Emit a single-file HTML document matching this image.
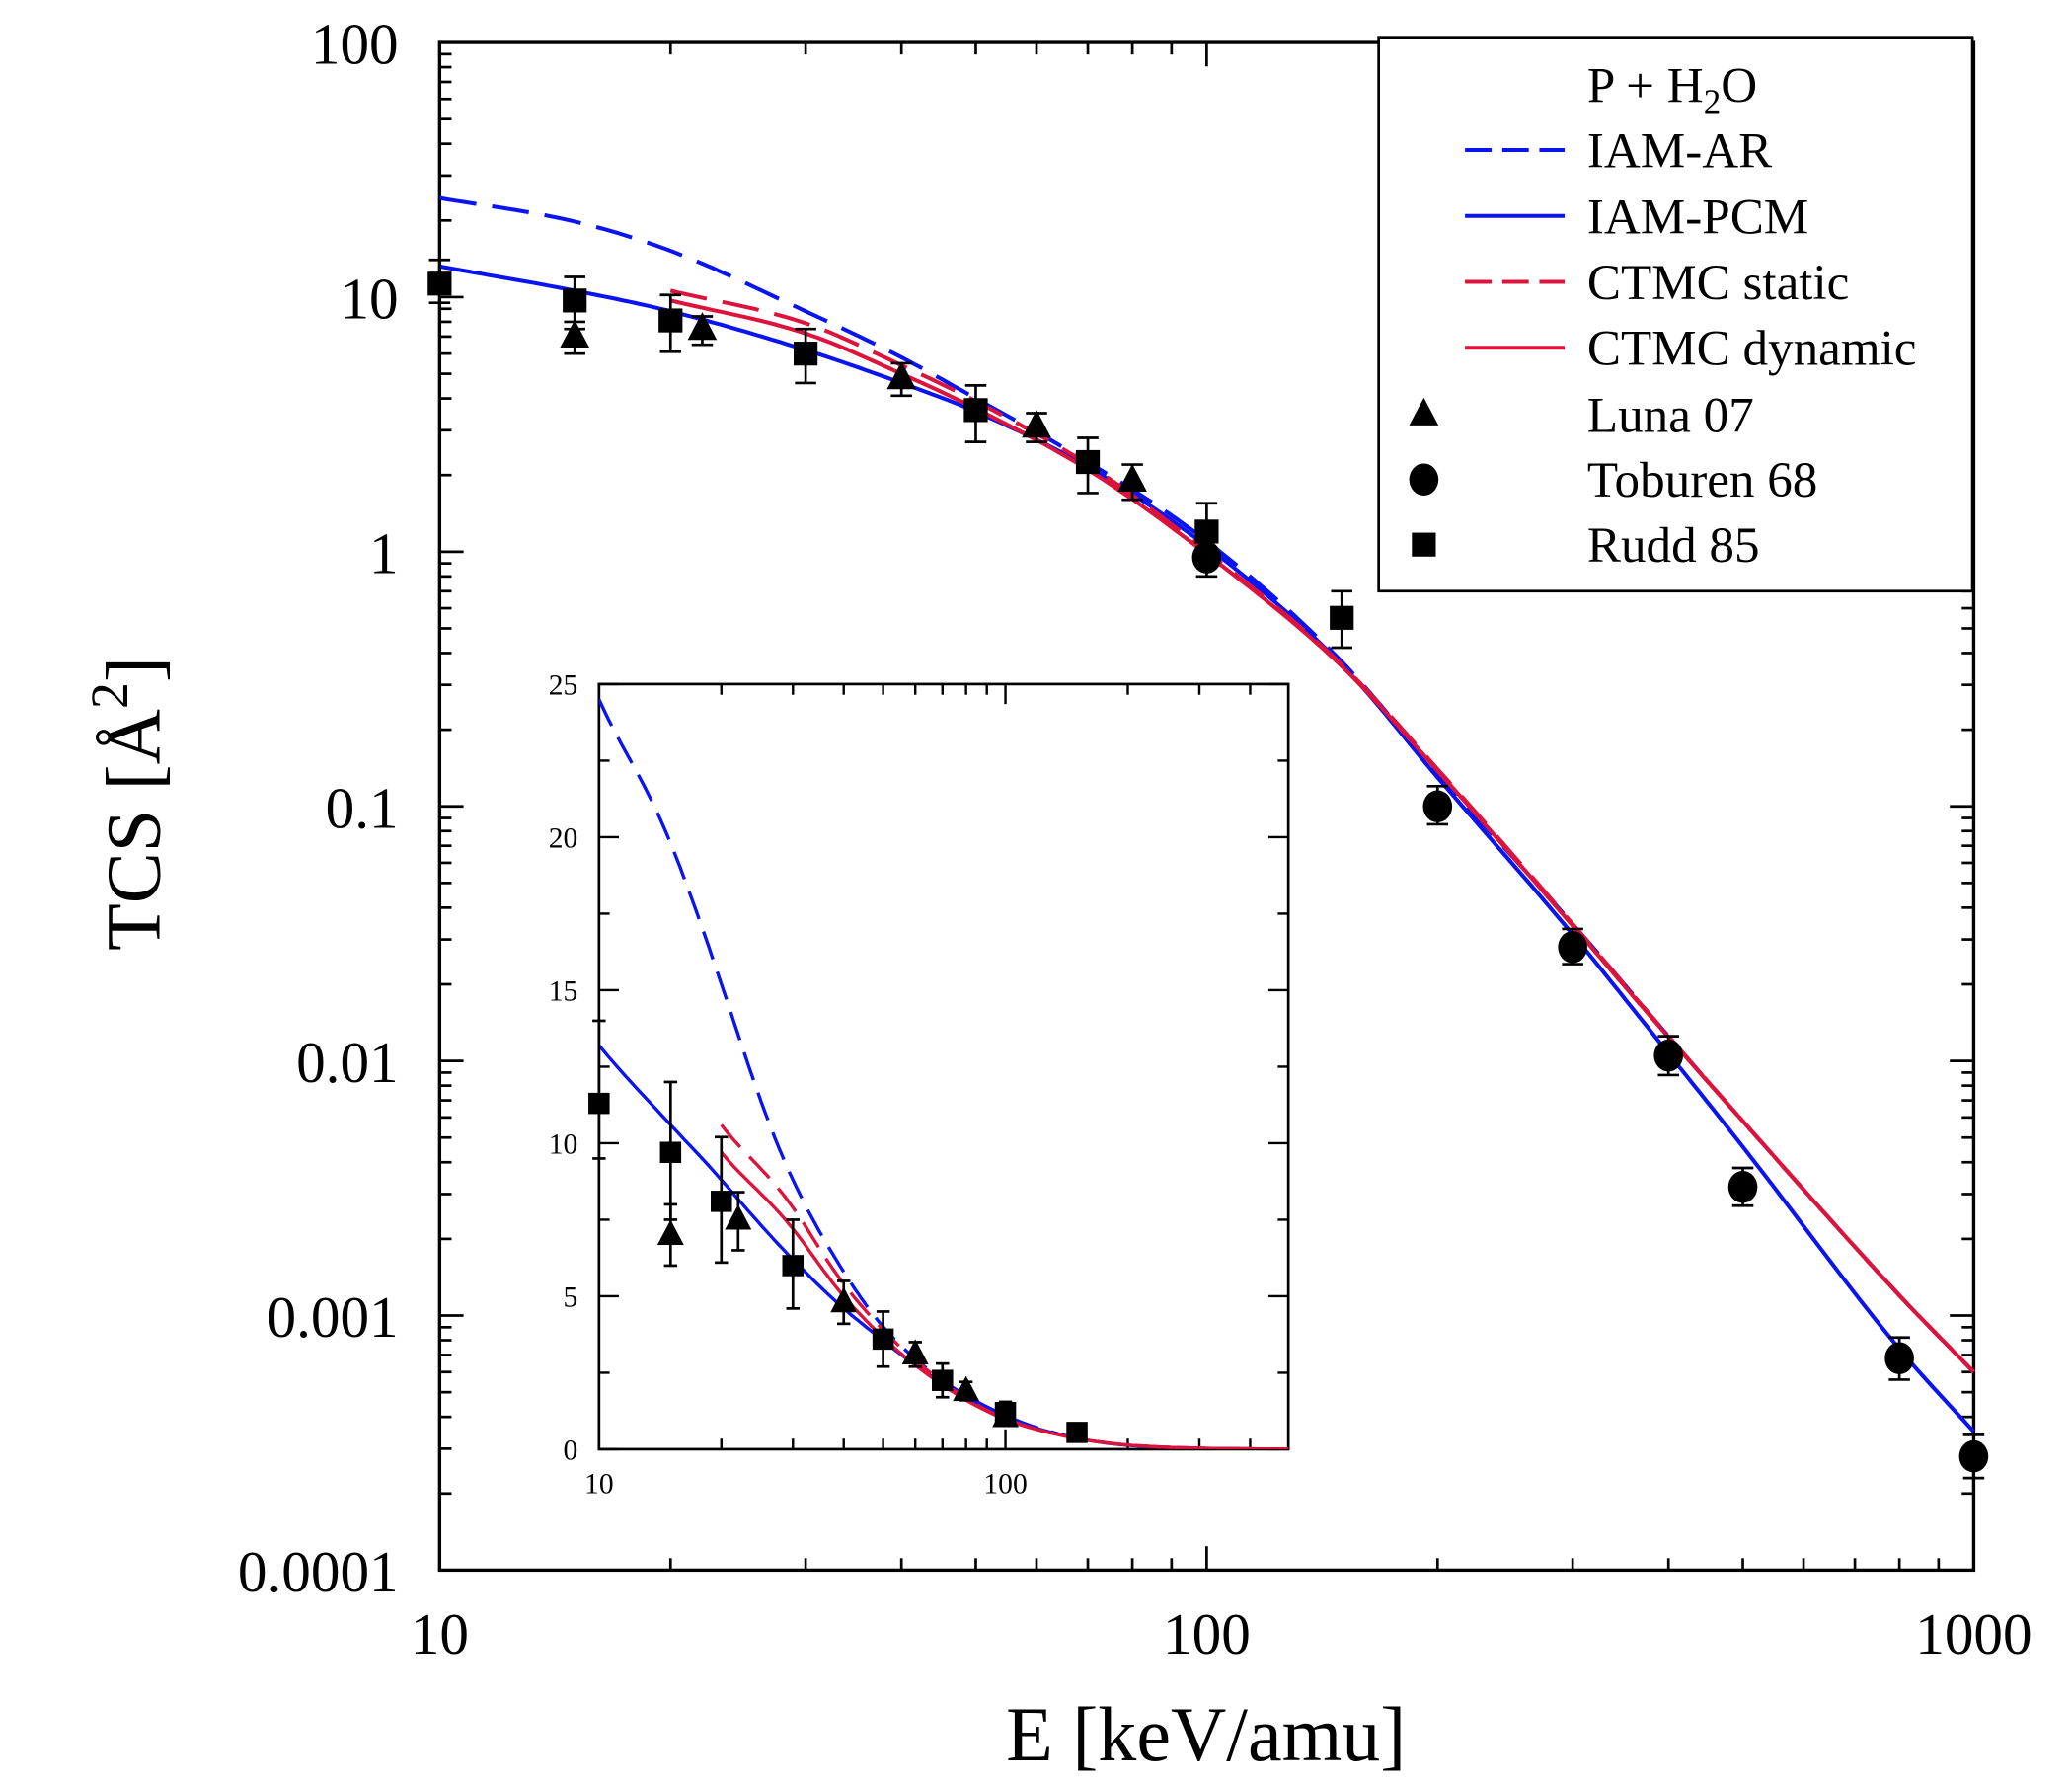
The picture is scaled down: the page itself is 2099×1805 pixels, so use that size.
<!DOCTYPE html>
<html><head><meta charset="utf-8"><style>
html,body{margin:0;padding:0;background:#fff;}
svg{display:block;}
text{font-family:"Liberation Serif",serif;fill:#000;}
</style></head><body>
<svg id="s" width="2099" height="1805" viewBox="0 0 1560 1341.5" preserveAspectRatio="none" xmlns="http://www.w3.org/2000/svg"></svg>
<script>
const S=document.getElementById('s');let h='';
const L=Math.log10;
const mx=e=>331+(L(e)-1)*577.5, my=v=>32+(2-L(v))*191.67;
const ix=e=>451+(L(e)-1)*306, iy=v=>1091-v*23.04;
function interp(pts){
  const P=pts.map(p=>[L(p[0]),L(p[1])]);const out=[];
  for(let i=0;i<P.length-1;i++){
    const p0=P[Math.max(0,i-1)],p1=P[i],p2=P[i+1],p3=P[Math.min(P.length-1,i+2)];
    // monotone-ish cubic hermite with tangents from neighbours
    const d=(a,b)=>(b[1]-a[1])/(b[0]-a[0]);
    const m1=i==0?d(p1,p2):(d(p0,p1)+d(p1,p2))/2;
    const m2=i+2>=P.length?d(p1,p2):(d(p1,p2)+d(p2,p3))/2;
    const hx=p2[0]-p1[0];
    for(let k=0;k<16;k++){const t=k/16,t2=t*t,t3=t2*t;
      const y=(2*t3-3*t2+1)*p1[1]+(t3-2*t2+t)*hx*m1+(-2*t3+3*t2)*p2[1]+(t3-t2)*hx*m2;
      out.push([Math.pow(10,p1[0]+hx*t),Math.pow(10,y)]);}
  }
  out.push([pts[pts.length-1][0],pts[pts.length-1][1]]);return out;
}
const PCM=[[10,13.2],[15,10.6],[20,8.8],[30,6.2],[40,4.6],[50,3.55],[70,2.15],[100,1.05],[150,0.36],[200,0.13],[300,0.0314],[400,0.0107],[500,0.0046],[800,0.00074],[1000,0.00035]];
const AR=[[10,24.5],[15,19.8],[20,15.2],[30,8.8],[40,5.8],[50,4.0],[70,2.25],[100,1.1],[150,0.37],[200,0.135],[300,0.0345],[400,0.0125],[500,0.0058],[800,0.0012],[1000,0.0006]];
const CS=[[20,10.6],[30,7.9],[40,5.4],[50,3.9],[70,2.2],[100,1.0],[150,0.36],[200,0.14],[300,0.0345],[400,0.0125],[500,0.0058],[800,0.0012],[1000,0.0006]];
const CD=[[20,9.7],[30,7.2],[40,5.0],[50,3.65],[70,2.1],[100,0.98],[150,0.355],[200,0.138],[300,0.034],[400,0.0124],[500,0.0058],[800,0.0012],[1000,0.0006]];
const blue='#0a14f0',red='#dc143c';
function curve(pts,col,dash,fx,fy,w){
  const s=interp(pts);
  h+=`<polyline fill="none" stroke="${col}" stroke-width="${w}" ${dash?'stroke-dasharray="'+dash+'"':''} points="${s.map(p=>fx(p[0]).toFixed(1)+','+fy(p[1]).toFixed(1)).join(' ')}"/>`;
}
h+=`<rect x="331" y="32" width="1155" height="1150" fill="none" stroke="#000" stroke-width="2.5"/>`;
for(let d=1;d<=3;d++){for(let m=1;m<10;m++){if(d==3&&m>1)break;const e=m*Math.pow(10,d);const x=mx(e);const l=m==1?18:9;
  h+=`<line x1="${x}" y1="1182" x2="${x}" y2="${1182-l}" stroke="#000" stroke-width="2"/><line x1="${x}" y1="32" x2="${x}" y2="${32+l}" stroke="#000" stroke-width="2"/>`;}}
for(let d=-4;d<=2;d++){for(let m=1;m<10;m++){if(d==2&&m>1)break;const v=m*Math.pow(10,d);const y=my(v);const l=m==1?18:9;
  h+=`<line x1="331" y1="${y}" x2="${331+l}" y2="${y}" stroke="#000" stroke-width="2"/><line x1="1486" y1="${y}" x2="${1486-l}" y2="${y}" stroke="#000" stroke-width="2"/>`;}}
const yl=['0.0001','0.001','0.01','0.1','1','10','100'];
yl.forEach((t,i)=>{h+=`<text x="300" y="${my(Math.pow(10,i-4))+16}" font-size="44" text-anchor="end">${t}</text>`;});
[['10',10],['100',100],['1000',1000]].forEach(a=>{h+=`<text x="${mx(a[1])}" y="1245" font-size="44" text-anchor="middle">${a[0]}</text>`;});
h+=`<text x="908" y="1325" font-size="58" text-anchor="middle">E [keV/amu]</text>`;
h+=`<text transform="translate(120,605) rotate(-90)" font-size="58" text-anchor="middle">TCS [Å<tspan dy="-24" font-size="40">2</tspan><tspan dy="24">]</tspan></text>`;
curve(AR,blue,'28,12',mx,my,3);
curve(PCM,blue,'',mx,my,3);
curve(CS,red,'28,12',mx,my,3);
curve(CD,red,'',mx,my,3);
function sq(x,y,s){h+=`<rect x="${x-s}" y="${y-s}" width="${2*s}" height="${2*s}" fill="#000"/>`;}
function tri(x,y,s){h+=`<polygon points="${x},${y-s*1.15} ${x-s},${y+s*0.75} ${x+s},${y+s*0.75}" fill="#000"/>`;}
function circ(x,y,s){h+=`<ellipse cx="${x}" cy="${y}" rx="${s}" ry="${s*1.1}" fill="#000"/>`;}
function eb(x,y1,y2,w){h+=`<line x1="${x}" y1="${y1}" x2="${x}" y2="${y2}" stroke="#000" stroke-width="2"/><line x1="${x-w}" y1="${y1}" x2="${x+w}" y2="${y1}" stroke="#000" stroke-width="2"/><line x1="${x-w}" y1="${y2}" x2="${x+w}" y2="${y2}" stroke="#000" stroke-width="2"/>`;}
const rudd=[[10,11.3,9.5,14],[15,9.7,7.5,12],[20,8.1,6.1,10.2],[30,6.0,4.6,7.5],[50,3.6,2.7,4.5],[70,2.25,1.7,2.8],[100,1.2,0.9,1.55],[150,0.55,0.42,0.7]];
const luna=[[15,7.0,6.0,8.0],[22,7.5,6.5,8.4],[40,4.8,4.1,5.5],[60,3.1,2.7,3.5],[80,1.9,1.6,2.2],[100,1.05,0.95,1.15]];
const tob=[[100,0.95,0.8,1.1],[200,0.1,0.085,0.12],[300,0.028,0.024,0.033],[400,0.0105,0.0088,0.0125],[500,0.0032,0.0027,0.0038],[800,0.00068,0.00056,0.00082],[1000,0.00028,0.00023,0.00034]];
rudd.forEach(p=>{eb(mx(p[0]),my(p[2]),my(p[3]),8);sq(mx(p[0]),my(p[1]),9);});
luna.forEach(p=>{eb(mx(p[0]),my(p[2]),my(p[3]),8);tri(mx(p[0]),my(p[1]),11);});
tob.forEach(p=>{eb(mx(p[0]),my(p[2]),my(p[3]),8);circ(mx(p[0]),my(p[1]),11);});
h+=`<rect x="1038" y="28" width="447" height="417" fill="#fff" stroke="#000" stroke-width="2"/>`;
h+=`<text x="1195" y="77" font-size="38">P + H<tspan dy="8" font-size="26">2</tspan><tspan dy="-8">O</tspan></text>`;
const leg=[['IAM-AR',blue,'28,12'],['IAM-PCM',blue,''],['CTMC static',red,'28,12'],['CTMC dynamic',red,'']];
leg.forEach((l,i)=>{const y=113+i*49.6;h+=`<line x1="1103" y1="${y}" x2="1178" y2="${y}" stroke="${l[1]}" stroke-width="3" ${l[2]?'stroke-dasharray="20,8"':''}/><text x="1195" y="${y+13}" font-size="38">${l[0]}</text>`;});
tri(1072,312,11);h+=`<text x="1195" y="325" font-size="38">Luna 07</text>`;
circ(1072,361,11);h+=`<text x="1195" y="374" font-size="38">Toburen 68</text>`;
sq(1072,410,9);h+=`<text x="1195" y="423" font-size="38">Rudd 85</text>`;
h+=`<rect x="451" y="515" width="519" height="576" fill="#fff" stroke="#000" stroke-width="2"/>`;
for(let d=1;d<=2;d++){for(let m=1;m<10;m++){const e=m*Math.pow(10,d);const x=ix(e);if(x>970)break;const l=m==1?15:8;
  h+=`<line x1="${x}" y1="1091" x2="${x}" y2="${1091-l}" stroke="#000" stroke-width="1.8"/><line x1="${x}" y1="515" x2="${x}" y2="${515+l}" stroke="#000" stroke-width="1.8"/>`;}}
for(let v=0;v<=25;v+=2.5){const y=iy(v);const l=(v%5==0)?15:8;
  h+=`<line x1="451" y1="${y}" x2="${451+l}" y2="${y}" stroke="#000" stroke-width="1.8"/><line x1="970" y1="${y}" x2="${970-l}" y2="${y}" stroke="#000" stroke-width="1.8"/>`;
  if(v%5==0)h+=`<text x="435" y="${y+8}" font-size="22" text-anchor="end">${v}</text>`;}
h+=`<text x="451" y="1124" font-size="22" text-anchor="middle">10</text><text x="757" y="1124" font-size="22" text-anchor="middle">100</text>`;
h+=`<svg x="451" y="515" width="519" height="576" viewBox="451 515 519 576" overflow="hidden">`;
curve(AR,blue,'22,10',ix,iy,2.5);
curve(PCM,blue,'',ix,iy,2.5);
curve(CS,red,'22,10',ix,iy,2.5);
curve(CD,red,'',ix,iy,2.5);
h+=`</svg>`;
rudd.forEach(p=>{eb(ix(p[0]),iy(p[2]),iy(p[3]),5);sq(ix(p[0]),iy(p[1]),8);});
luna.forEach(p=>{eb(ix(p[0]),iy(p[2]),iy(p[3]),5);tri(ix(p[0]),iy(p[1]),10);});
S.innerHTML=h;
</script>
</body></html>
